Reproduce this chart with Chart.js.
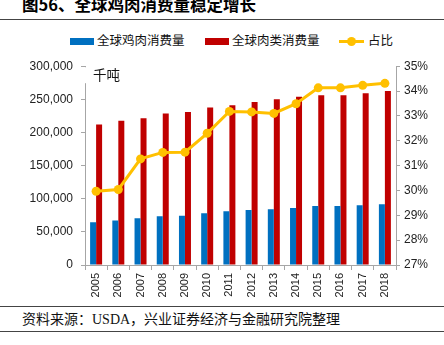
<!DOCTYPE html>
<html>
<head>
<meta charset="utf-8">
<script src="https://cdn.jsdelivr.net/npm/chart.js@4"></script>
<style>
  html, body { margin: 0; padding: 0; background: #fff; }
  body { width: 444px; height: 345px; position: relative; overflow: hidden; }
  .title { position: absolute; left: 22px; top: -8px; font: bold 16.5px "Noto Sans CJK SC", sans-serif; color: #000; white-space: nowrap; }
  .rule { position: absolute; left: 0; width: 444px; height: 0; border-top: 1.5px solid #444; }
  .legend { position: absolute; top: 32px; left: 0; width: 444px; height: 18px; font: 12.5px "Noto Sans CJK SC", sans-serif; color: #111; }
  .legend span { position: absolute; top: 0; line-height: 16px; white-space: nowrap; }
  .legend i { position: absolute; display: block; }
  .source { position: absolute; left: 22px; top: 308px; font: 14px "Liberation Serif", "Noto Sans CJK SC", serif; color: #111; white-space: nowrap; }
  #wrap { position: absolute; left: 0; top: 51px; width: 444px; height: 254px; }
</style>
</head>
<body>
<div class="title">图56、全球鸡肉消费量稳定增长</div>
<div class="rule" style="top:19px"></div>
<div class="legend">
  <i style="left:70px;top:6px;width:24px;height:7px;background:#0070C0"></i>
  <span style="left:97px">全球鸡肉消费量</span>
  <i style="left:205px;top:6px;width:24px;height:7px;background:#C00000"></i>
  <span style="left:232px">全球肉类消费量</span>
  <i style="left:339px;top:8px;width:25px;height:3px;background:#FFC000"></i>
  <i style="left:347px;top:5px;width:9px;height:9px;border-radius:50%;background:#FFC000"></i>
  <span style="left:368px">占比</span>
</div>
<div id="wrap"><canvas id="c" width="444" height="254"></canvas></div>
<div class="rule" style="top:306px"></div>
<div class="source">资料来源：USDA，兴业证券经济与金融研究院整理</div>
<div class="rule" style="top:331px"></div>

<script>
// years on the x axis
var years = ['2005', '2006', '2007', '2008', '2009', '2010', '2011', '2012', '2013', '2014', '2015', '2016', '2017', '2018'];
// global chicken consumption, thousand tonnes
var chicken = [64500, 67000, 70500, 73500, 74500, 78000, 81000, 83000, 84000, 86000, 89000, 89000, 90000, 91500];
// global meat consumption, thousand tonnes
var meat = [212000, 217500, 221500, 228500, 231000, 237500, 241000, 246000, 250000, 254000, 256000, 256000, 259000, 262500];
// chicken share of meat, percent
var share = [29.97, 30.04, 31.27, 31.53, 31.54, 32.3, 33.18, 33.16, 33.1, 33.49, 34.13, 34.13, 34.23, 34.31];

var tickFont = { family: 'Liberation Sans', size: 12 };
var gridGray = '#a6a6a6';

// unit label in the top-left corner of the plot
var unitLabel = {
  id: 'unitLabel',
  afterDraw: function (chart) {
    var ctx = chart.ctx;
    var a = chart.chartArea;
    ctx.save();
    ctx.fillStyle = '#fff';
    ctx.fillRect(a.left - 1, a.top + 1, 40, 16);
    ctx.fillStyle = '#111';
    ctx.font = '13.5px "Noto Sans CJK SC"';
    ctx.textBaseline = 'middle';
    ctx.fillText('千吨', a.left + 8, a.top + 9);
    ctx.restore();
  }
};

new Chart(document.getElementById('c').getContext('2d'), {
  data: {
    labels: years,
    datasets: [{
      type: 'line',
      label: '占比',
      data: share,
      yAxisID: 'y1',
      borderColor: '#FFC000',
      backgroundColor: '#FFC000',
      borderWidth: 3,
      pointRadius: 4.5,
      pointBackgroundColor: '#FFC000',
      pointBorderWidth: 0,
      tension: 0,
      order: 0
    }, {
      type: 'bar',
      label: '全球鸡肉消费量',
      data: chicken,
      yAxisID: 'y',
      backgroundColor: '#0070C0',
      barPercentage: 1,
      categoryPercentage: 0.54,
      order: 1
    }, {
      type: 'bar',
      label: '全球肉类消费量',
      data: meat,
      yAxisID: 'y',
      backgroundColor: '#C00000',
      barPercentage: 1,
      categoryPercentage: 0.54,
      order: 1
    }]
  },
  options: {
    responsive: false,
    animation: false,
    layout: { padding: { top: 7, left: 0, right: 0, bottom: 0 } },
    plugins: {
      legend: { display: false },
      tooltip: { enabled: false }
    },
    scales: {
      x: {
        grid: { display: true, drawOnChartArea: false, color: gridGray, tickLength: 5, offset: true },
        border: { color: gridGray },
        ticks: { color: '#222', font: { family: 'Liberation Sans', size: 11 }, minRotation: 90, maxRotation: 90, padding: 3 },
        afterFit: function (s) { s.height = 40; }
      },
      y: {
        position: 'left',
        min: 0,
        max: 300000,
        grid: { drawOnChartArea: false, color: gridGray, tickLength: 4 },
        border: { color: gridGray },
        ticks: {
          stepSize: 50000,
          color: '#222',
          font: tickFont,
          padding: 8,
          callback: function (v) { return v.toLocaleString('en-US'); }
        },
        afterFit: function (s) { s.width = 85; }
      },
      y1: {
        position: 'right',
        min: 27,
        max: 35,
        grid: { drawOnChartArea: false, color: gridGray, tickLength: 4 },
        border: { color: gridGray },
        ticks: {
          stepSize: 1,
          color: '#222',
          font: tickFont,
          padding: 4,
          callback: function (v) { return v + '%'; }
        },
        afterFit: function (s) { s.width = 48; }
      }
    }
  },
  plugins: [unitLabel]
});
</script>
</body>
</html>
